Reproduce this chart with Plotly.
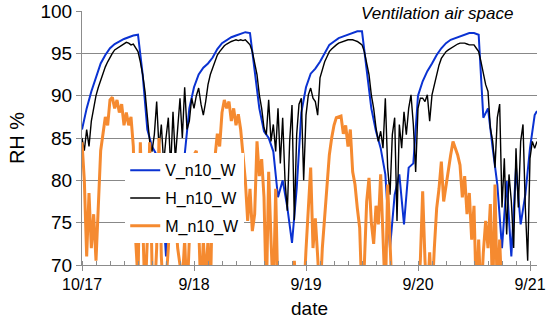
import plotly.graph_objects as go

# ---------------- data ----------------
# V_n10_W, hourly samples from hour 0 (10/17 0:00); last sample at hour 97.5
V_n10_W = [
    86, 88.5, 90.5, 92.3, 93.8, 94.8, 95.6, 96.1, 96.4, 96.7, 96.9, 97.1,
    97.2, 92.5, 86, 84, 83, 80, 71, 78, 80, 74, 83, 88.5,
    91, 92.5, 93.3, 93.8, 94.5, 95.5, 96.2, 96.6, 96.9, 97.1, 97.3, 97.5,
    97.4, 93.2, 88.5, 85.8, 85, 83.4, 78, 80, 76.8, 72.6, 79, 88,
    91, 92.6, 93.2, 94, 95, 96, 96.4, 96.8, 97, 97.2, 97.4, 97.6,
    97.6, 93.2, 88.5, 85.8, 83.8, 80.7, 72, 78.3, 80.7, 74.8, 81.5, 82,
    90, 91.7, 92.9, 93.8, 94.8, 95.6, 96.2, 96.6, 96.8, 97, 97.2, 97.4,
    97.4, 97.2, 87.4, 88.5, 83.8, 79.5, 72, 79.9, 71, 81.5, 74.8, 78.3,
    83.8, 87.7, 88.2,
]
V_hours = list(range(98)) + [97.5]

# H_n10_W, half-hourly samples from hour 0
H_n10_W = [
    85, 83.5, 86, 84, 87, 88.5, 90, 91, 91.9, 92.7, 93.4, 94,
    94.6, 95, 95.4, 95.6, 95.8, 96, 96.1, 96.3, 96.2, 96.0, 96.1, 95.7,
    95.2, 94, 92.5, 90.5, 87.4, 84.6, 83.4, 85.4, 89.3, 83.8, 86.6, 82,
    85, 87.4, 81.5, 88.1, 82.5, 86.6, 89.7, 85, 91, 86, 87, 89.7,
    88.5, 90, 90.9, 89, 87.7, 89.3, 91.3, 92.5, 93.2, 94, 94.8, 95.2,
    95.6, 95.9, 96.1, 96.3, 96.4, 96.5, 96.6, 96.5, 96.6, 96.5, 96.6, 96.3,
    96, 95.2, 94, 92.5, 90.1, 88.5, 86.2, 85.4, 89.5, 84.6, 86.6, 83.4,
    88.5, 82, 87.4, 80, 76.4, 84.6, 88.9, 75.3, 85.4, 89, 89.7, 80,
    87.7, 90.1, 90.9, 89.7, 89.3, 87.7, 92.1, 93.2, 94, 94.6, 95.2, 95.5,
    95.8, 96, 96.2, 96.3, 96.4, 96.5, 96.6, 96.6, 96.6, 96.5, 96.4, 96.2,
    96, 95.2, 94, 92.5, 90.1, 88.5, 86.2, 84.6, 85.8, 83.8, 89.7, 81.5,
    78.3, 85.4, 87.4, 75.2, 86.6, 83.8, 88.1, 85.4, 88.5, 90.1, 86.6, 81,
    88.5, 89.7, 89.7, 89.3, 90.1, 87, 90.1, 91.3, 92.5, 93.6, 94.4, 94.8,
    95.2, 95.4, 95.6, 95.8, 96, 96.1, 96.2, 96.2, 96.2, 96.1, 96, 96,
    96, 95.6, 95.2, 94, 92.5, 91.3, 90.5, 86.2, 84.6, 81.5, 87.4, 89,
    76.8, 82.6, 73.6, 80.7, 77.5, 72, 83.8, 76.8, 84.6, 86.6, 76.8, 70.5,
    82.6, 84.6, 83.8, 84.6,
]

# M_n10_W, half-hourly samples from hour 0 (values below 70 fall off the chart)
M_n10_W = [
    84.5, 80, 71, 78.5, 72, 76, 70.5, 78, 83.5, 85.5, 87.5, 86.5,
    89.5, 89.8, 88.5, 89.5, 88, 89, 86.5, 88, 86.5, 87.5, 84, 73,
    68, 84.5, 72, 66, 73, 84.5, 70, 66, 72, 85, 71, 66,
    68, 72, 78, 82, 76, 72, 70, 68, 73, 66, 73, 78,
    83, 83.5, 72, 66, 73, 68, 73, 66, 80, 83, 85.5, 84,
    88, 89.5, 88.5, 89.3, 87, 88.5, 86.5, 87.8, 86, 83, 80, 75.2,
    79, 74, 76, 84.6, 80.5, 82.5, 78, 66, 81, 73, 66, 79,
    66, 66, 66, 66, 66, 66, 66, 70.5, 66, 66, 66, 66,
    71.8, 76, 81.5, 72, 75.5, 71, 66, 72, 76, 80, 83, 85,
    86.5, 87.4, 87.5, 87.6, 85.5, 86.5, 84, 86, 81, 79.5, 76.7, 74.4,
    66, 70, 77.5, 80.3, 75, 72.5, 77, 74.8, 80.7, 72.5, 66, 79.5,
    70.5, 66, 66, 66, 66, 66, 66, 66, 66, 66, 66, 66,
    66, 70.5, 78.7, 70.5, 66, 71.5, 66, 72, 76.7, 79, 82.2, 77.5,
    79.5, 81.5, 83, 84.6, 83.8, 83, 81.8, 78, 80.5, 76, 78.5, 73,
    77, 66, 73, 66, 71.5, 75.2, 72, 77.2, 66, 79.5, 66, 73,
    66, 66, 66, 66, 66, 66, 66, 66, 66, 66, 66, 66,
    66, 66, 66, 66,
]
half_hours = [i / 2 for i in range(len(H_n10_W))]

tick_hours = [0, 24, 48, 72, 96]
tick_labels = ["10/17", "9/18", "9/19", "9/20", "9/21"]

# ---------------- figure ----------------
FONT = "Arial, Liberation Sans, sans-serif"
GRID = "#8c8c8c"

fig = go.Figure()
fig.add_trace(go.Scatter(x=V_hours, y=V_n10_W, mode="lines", name="V_n10_W",
                         legendgroup="v", line=dict(color="#0a32d2", width=2)))
fig.add_trace(go.Scatter(x=half_hours, y=H_n10_W, mode="lines", name="H_n10_W",
                         legendgroup="h", line=dict(color="#000000", width=1.4)))
fig.add_trace(go.Scatter(x=half_hours, y=M_n10_W, mode="lines", name="M_n10_W",
                         legendgroup="m", line=dict(color="#f58a30", width=3)))

fig.update_layout(
    width=550, height=322,
    margin=dict(l=82, r=13, t=11, b=57),
    paper_bgcolor="white", plot_bgcolor="white",
    font=dict(family=FONT, color="#000000"),
    showlegend=True,
    legend=dict(x=0.095, y=0.44, xanchor="left", yanchor="top",
                bgcolor="white", borderwidth=0, font=dict(size=16),
                tracegroupgap=4, itemwidth=30),
    annotations=[dict(text="Ventilation air space", xref="paper", yref="paper",
                      x=0.952, y=0.99, xanchor="right", yanchor="middle",
                      showarrow=False,
                      font=dict(size=17, style="italic", color="#000000"))],
)

fig.update_xaxes(
    range=[0, 97.5], showgrid=False, zeroline=False, automargin=False,
    showline=True, linecolor=GRID, linewidth=1,
    tickmode="array", tickvals=tick_hours, ticktext=tick_labels,
    ticks="outside", ticklen=5, tickcolor=GRID, ticklabeloverflow="allow",
    tickfont=dict(size=16),
    minor=dict(dtick=3, tick0=0, ticks="inside", ticklen=4, tickcolor=GRID),
    title=dict(text="date", font=dict(size=19), standoff=9),
)
fig.update_yaxes(
    range=[70, 100], dtick=5, tick0=70, automargin=False,
    showgrid=True, gridcolor="#888888", gridwidth=1, griddash="solid",
    zeroline=False,
    showline=True, linecolor=GRID, linewidth=1,
    ticks="outside", ticklen=5, tickcolor=GRID, ticklabeloverflow="allow",
    tickfont=dict(size=19),
    title=dict(text="RH %", font=dict(size=20), standoff=10),
)

# remove the page's default 8px body margin so the figure sits at the window's corner
fig.write_html("out.html", config={"displayModeBar": False},
               post_script="document.body.style.margin='0';")
